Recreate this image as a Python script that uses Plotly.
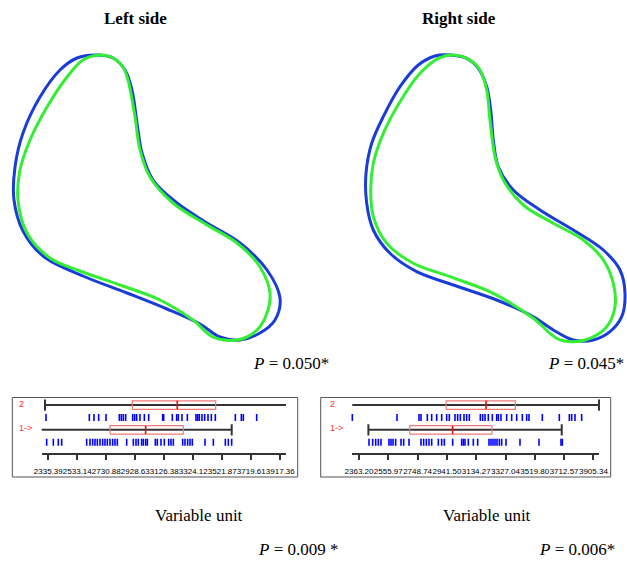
import plotly.graph_objects as go

W, H = 627, 561

# ---------------- contour outlines (pixel space) ----------------
left_blue_x = [97, 113, 125, 132, 137, 142, 153, 177, 207, 240, 267, 280, 275, 260, 240, 220, 200, 167, 127, 83, 43, 23, 14, 15, 23, 40, 60, 77]
left_blue_y = [55, 58, 70, 90, 123, 153, 180, 203, 223, 243, 270, 298, 320, 333, 340, 337, 324, 309, 293, 276, 256, 231, 200, 167, 133, 97, 70, 58]
left_green_x = [100, 113, 123, 128, 135, 140, 150, 173, 207, 237, 260, 270, 267, 257, 237, 213, 193, 160, 120, 80, 50, 27, 18, 20, 30, 47, 67, 83]
left_green_y = [55, 58, 67, 80, 117, 150, 177, 203, 225, 243, 267, 293, 313, 330, 340, 337, 320, 300, 285, 271, 258, 233, 200, 170, 140, 107, 77, 60]

right_blue_x = [450, 466.7, 478.3, 486.7, 490.7, 493.3, 498.3, 513.3, 540, 573.3, 603.3, 620, 625, 621.7, 610, 593.3, 573.3, 553.3, 533.3, 496.7, 453.3, 416.7, 390, 373.3, 366.7, 366, 371.7, 383.3, 400, 418.3, 435]
right_blue_y = [55, 58.3, 68.3, 86.7, 110, 140, 166.7, 190, 210, 230, 250, 270, 293.3, 316.7, 331.7, 340, 340, 330, 316.7, 300, 285, 271.7, 253.3, 230, 203.3, 173.3, 143.3, 116.7, 86.7, 65, 56]
right_green_x = [453.3, 470, 480, 486.7, 490, 495, 503.3, 523.3, 553.3, 583.3, 603.3, 613.3, 615, 606.7, 590, 573.3, 556.7, 533.3, 493.3, 450, 413.3, 386.7, 373.3, 370.7, 373.3, 383.3, 400, 420, 438.3]
right_green_y = [55, 60, 70, 90, 120, 156.7, 180, 205, 223.3, 240, 260, 283.3, 306.7, 326.7, 338.3, 341.7, 338.3, 318.3, 293.3, 276.7, 263.3, 243.3, 216.7, 190, 163.3, 133.3, 101.7, 73.3, 58.3]

# ---------------- box / strip panels ----------------
left_tick_vals = [2335.39, 2533.14, 2730.88, 2928.63, 3126.38, 3324.12, 3521.87, 3719.61, 3917.36]
left_tick_text = ["2335.39", "2533.14", "2730.88", "2928.63", "3126.38", "3324.12", "3521.87", "3719.61", "3917.36"]
left_range = [2290.4, 3956.3]
# stats: [min, q1, median, q3, max]
left_g2_stats = [2313, 2908, 3215, 3477, 3961]
left_g1_stats = [2286, 2756, 2999, 3256, 3586]
left_g2_values = [2319.7, 2615.2, 2647.0, 2678.8, 2728.9, 2819.8, 2833.4, 2847.1, 2863.0, 2910.7,
                  2924.3, 2938.0, 2960.7, 2990.3, 3019.8, 3115.3, 3122.1, 3181.2, 3210.7, 3222.1,
                  3247.1, 3283.5, 3342.6, 3353.9, 3365.3, 3383.5, 3401.7, 3424.4, 3447.1, 3474.4,
                  3610.8, 3651.7, 3665.3, 3756.3, 3960.8]
left_g1_values = [2290.2, 2324.3, 2369.7, 2403.8, 2426.5, 2597.0, 2619.8, 2637.9, 2653.8, 2669.8,
                  2687.9, 2706.1, 2722.0, 2737.9, 2756.1, 2774.3, 2790.2, 2806.1, 2869.8, 2915.2,
                  2933.4, 2949.3, 2972.1, 2983.4, 2999.3, 3010.7, 3065.3, 3078.9, 3103.9, 3126.6,
                  3156.2, 3172.1, 3188.0, 3251.6, 3267.6, 3285.7, 3301.7, 3317.6, 3403.9, 3460.8,
                  3542.6, 3563.0, 3585.8]

right_tick_vals = [2363.20, 2555.97, 2748.74, 2941.50, 3134.27, 3327.04, 3519.80, 3712.57, 3905.34]
right_tick_text = ["2363.20", "2555.97", "2748.74", "2941.50", "3134.27", "3327.04", "3519.80", "3712.57", "3905.34"]
right_range = [2319.1, 3942.2]
right_g2_stats = [2315, 2936, 3199, 3392, 3942]
right_g1_stats = [2425, 2697, 2979, 3238, 3697]
right_g2_values = [2319.3, 2613.2, 2757.9, 2771.1, 2812.8, 2841.3, 2874.2, 2907.1, 2940.0, 2957.5,
                   2994.8, 3012.3, 3029.9, 3054.0, 3071.5, 3089.1, 3161.5, 3176.8, 3192.2, 3214.1,
                   3240.4, 3268.9, 3279.9, 3297.4, 3334.7, 3367.6, 3400.5, 3437.8, 3466.3, 3481.6,
                   3569.4, 3681.2, 3747.0, 3762.3, 3784.3, 3828.1, 3944.4]
right_g1_values = [2429.0, 2453.1, 2472.9, 2490.4, 2507.9, 2560.6, 2573.7, 2586.9, 2604.4, 2639.5,
                   2657.1, 2692.2, 2771.1, 2788.6, 2806.2, 2823.7, 2841.3, 2885.1, 2907.1, 2924.6,
                   2979.4, 3038.6, 3049.6, 3060.6, 3082.5, 3115.4, 3143.9, 3218.5, 3231.6, 3244.8,
                   3257.9, 3271.1, 3286.5, 3301.8, 3330.3, 3422.4, 3547.4, 3692.1, 3700.9]

group_labels = ["2", "1->"]
titles = ["Left side", "Right side"]
shape_p = ["0.050*", "0.045*"]
box_p = ["0.009 *", "0.006*"]

BLUE = "#1a3cd8"
GREEN = "#33ee33"

fig = go.Figure()

# contour outlines
for xs, ys, col in [(left_blue_x, left_blue_y, BLUE), (right_blue_x, right_blue_y, BLUE),
                    (left_green_x, left_green_y, GREEN), (right_green_x, right_green_y, GREEN)]:
    fig.add_trace(go.Scatter(x=xs + xs[:1], y=ys + ys[:1], mode="lines",
                             line=dict(color=col, width=3, shape="spline", smoothing=1.0),
                             xaxis="x", yaxis="y", hoverinfo="skip", showlegend=False))

ROW_W2, ROW_S2, ROW_W1, ROW_S1 = 4, 3, 2, 1
HALF = 0.34


def add_panel(xa, ya, g2_stats, g1_stats, g2_vals, g1_vals):
    for stats, row in [(g2_stats, ROW_W2), (g1_stats, ROW_W1)]:
        lo, q1, med, q3, hi = stats
        fig.add_trace(go.Scatter(x=[lo, hi], y=[row, row], mode="lines+markers",
                                 line=dict(color="#333333", width=2),
                                 marker=dict(symbol="line-ns", size=8,
                                             line=dict(color="#333333", width=2)),
                                 xaxis=xa, yaxis=ya, cliponaxis=False, hoverinfo="skip", showlegend=False))
        fig.add_trace(go.Scatter(x=[q1, q3, q3, q1, q1],
                                 y=[row - HALF, row - HALF, row + HALF, row + HALF, row - HALF],
                                 mode="lines", line=dict(color="#f47a7a", width=1.2),
                                 xaxis=xa, yaxis=ya, cliponaxis=False, hoverinfo="skip", showlegend=False))
        fig.add_trace(go.Scatter(x=[med, med], y=[row - HALF, row + HALF], mode="lines",
                                 line=dict(color="#e01010", width=1.6),
                                 xaxis=xa, yaxis=ya, cliponaxis=False, hoverinfo="skip", showlegend=False))
    for vals, row in [(g2_vals, ROW_S2), (g1_vals, ROW_S1)]:
        fig.add_trace(go.Scatter(x=vals, y=[row] * len(vals), mode="markers",
                                 marker=dict(symbol="line-ns", size=5,
                                             line=dict(color="#0000ff", width=1.6)),
                                 xaxis=xa, yaxis=ya, cliponaxis=False, hoverinfo="skip", showlegend=False))


add_panel("x2", "y2", left_g2_stats, left_g1_stats, left_g2_values, left_g1_values)
add_panel("x3", "y3", right_g2_stats, right_g1_stats, right_g2_values, right_g1_values)


def px(v):
    return v / W


def py(v):
    return 1 - v / H


hidden = dict(visible=False, showgrid=False, zeroline=False, automargin=False)
panel_x = dict(showline=True, linecolor="#333333", linewidth=2, ticks="outside", ticklen=5,
               tickwidth=2, tickcolor="#333333", tickangle=0, showgrid=False, zeroline=False,
               ticklabelstandoff=4, automargin=False,
               tickfont=dict(family="Liberation Sans, Arial, sans-serif", size=8, color="#000000"))
panel_y_dom = [py(453.3), py(398)]
panel_y = dict(visible=False, showgrid=False, zeroline=False, automargin=False,
               range=[0.11, 4.57], domain=panel_y_dom)

fig.update_layout(
    width=W, height=H, autosize=False,
    margin=dict(l=0, r=0, t=0, b=0, pad=0, autoexpand=False),
    paper_bgcolor="white", plot_bgcolor="rgba(0,0,0,0)",
    xaxis=dict(domain=[0, 1], range=[0, W], **hidden),
    yaxis=dict(domain=[0, 1], range=[H, 0], **hidden),
    xaxis2=dict(domain=[px(41.7), px(286)], range=left_range, anchor="y2",
                tickvals=left_tick_vals, ticktext=left_tick_text, **panel_x),
    yaxis2=dict(anchor="x2", **panel_y),
    xaxis3=dict(domain=[px(352.3), px(599)], range=right_range, anchor="y3",
                tickvals=right_tick_vals, ticktext=right_tick_text, **panel_x),
    yaxis3=dict(anchor="x3", **panel_y),
    showlegend=False,
)

# panel frames
for x0, x1 in [(12.3, 297.7), (320.7, 610.7)]:
    fig.add_shape(type="rect", xref="paper", yref="paper", x0=px(x0), x1=px(x1),
                  y0=py(477), y1=py(397.5), line=dict(color="#555555", width=1))

serif = "Liberation Serif, Times New Roman, serif"
ann = []
for cx, t in zip([135.5, 459], titles):
    ann.append(dict(x=px(cx), y=py(18), text="<b>" + t + "</b>", showarrow=False, xref="paper", yref="paper",
                    xanchor="center", yanchor="middle", font=dict(family=serif, size=17, color="black")))
for cx, t in zip([290.8, 585.8], shape_p):
    ann.append(dict(x=px(cx), y=py(363), text="<i>P</i> = " + t, showarrow=False, xref="paper", yref="paper",
                    xanchor="center", yanchor="middle", font=dict(family=serif, size=17, color="black")))
for cx in [199, 486.5]:
    ann.append(dict(x=px(cx), y=py(515), text="Variable unit", showarrow=False, xref="paper", yref="paper",
                    xanchor="center", yanchor="middle", font=dict(family=serif, size=17, color="black")))
for cx, t in zip([297.5, 576.5], box_p):
    ann.append(dict(x=px(cx), y=py(549), text="<i>P</i> = " + t, showarrow=False, xref="paper", yref="paper",
                    xanchor="center", yanchor="middle", font=dict(family=serif, size=17, color="black")))
for x0 in [16.5, 327.5]:
    for lab, yy in zip(group_labels, [404.3, 427.7]):
        ann.append(dict(x=px(x0), y=py(yy), text=lab, showarrow=False, xref="paper", yref="paper",
                        xanchor="left", yanchor="middle",
                        font=dict(family="Liberation Sans, Arial, sans-serif", size=9, color="#ff3030")))
fig.update_layout(annotations=ann)

fig.write_html("out.html", config={"displayModeBar": False, "responsive": False},
               post_script="document.body.style.margin='0';document.body.style.overflow='hidden';")
